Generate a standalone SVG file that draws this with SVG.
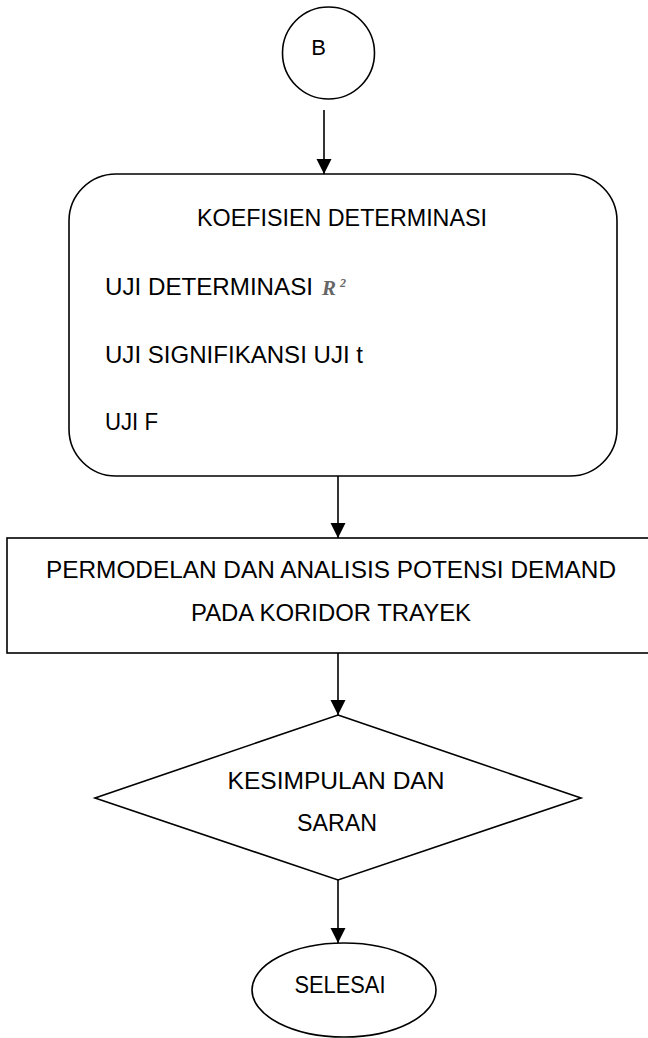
<svg xmlns="http://www.w3.org/2000/svg" width="648" height="1038" viewBox="0 0 648 1038">
  <style>
    .shape { fill: #ffffff; stroke: #000000; stroke-width: 1.6; }
    .conn { stroke: #000000; stroke-width: 1.6; fill: none; }
    .t { font-family: "Liberation Sans", Arial, sans-serif; font-size: 24px; fill: #000000; }
    .m { font-family: "Liberation Serif", "Times New Roman", serif; font-style: italic; font-weight: bold; fill: #666666; }
  </style>
  <defs>
    <marker id="arrow" markerUnits="userSpaceOnUse" markerWidth="16" markerHeight="16" refX="15" refY="7.5" orient="auto">
      <path d="M0,0 L15,7.5 L0,15 z" fill="#000000"/>
    </marker>
  </defs>
  <rect width="648" height="1038" fill="#ffffff"/>

  <g id="node-b">
    <circle class="shape" cx="328.5" cy="53" r="46"/>
    <text class="t" x="318.5" y="55" text-anchor="middle" style="font-size:22px">B</text>
  </g>

  <g id="node-koefisien">
    <rect class="shape" x="69" y="174" width="548" height="302" rx="47" ry="47"/>
    <text class="t" x="342" y="226" text-anchor="middle" textLength="290" lengthAdjust="spacingAndGlyphs">KOEFISIEN DETERMINASI</text>
    <text class="t" x="105" y="295" textLength="208" lengthAdjust="spacingAndGlyphs">UJI DETERMINASI</text>
    <text class="m" x="322" y="295" style="font-size:21px">R</text>
    <text class="m" x="340" y="287" style="font-size:12px">2</text>
    <text class="t" x="105" y="363" textLength="258" lengthAdjust="spacingAndGlyphs">UJI SIGNIFIKANSI UJI t</text>
    <text class="t" x="105" y="430" textLength="53" lengthAdjust="spacingAndGlyphs">UJI F</text>
  </g>

  <g id="node-permodelan">
    <rect class="shape" x="7" y="538" width="642" height="115"/>
    <text class="t" x="331" y="578" text-anchor="middle" textLength="570" lengthAdjust="spacingAndGlyphs">PERMODELAN DAN ANALISIS POTENSI DEMAND</text>
    <text class="t" x="331" y="621" text-anchor="middle" textLength="280" lengthAdjust="spacingAndGlyphs">PADA KORIDOR TRAYEK</text>
  </g>

  <g id="node-kesimpulan">
    <polygon class="shape" points="338,715 581,798 338,880 95,798"/>
    <text class="t" x="336" y="789" text-anchor="middle" textLength="217" lengthAdjust="spacingAndGlyphs">KESIMPULAN DAN</text>
    <text class="t" x="337" y="831" text-anchor="middle" textLength="80" lengthAdjust="spacingAndGlyphs">SARAN</text>
  </g>

  <g id="node-selesai">
    <ellipse class="shape" cx="344" cy="990" rx="92" ry="47"/>
    <text class="t" x="340" y="993" text-anchor="middle" textLength="91" lengthAdjust="spacingAndGlyphs">SELESAI</text>
  </g>

  <g id="connectors">
    <line class="conn" x1="324" y1="110" x2="324" y2="174" marker-end="url(#arrow)"/>
    <line class="conn" x1="338" y1="476" x2="338" y2="538" marker-end="url(#arrow)"/>
    <line class="conn" x1="338" y1="653" x2="338" y2="715" marker-end="url(#arrow)"/>
    <line class="conn" x1="338" y1="880" x2="338" y2="943" marker-end="url(#arrow)"/>
  </g>
</svg>
